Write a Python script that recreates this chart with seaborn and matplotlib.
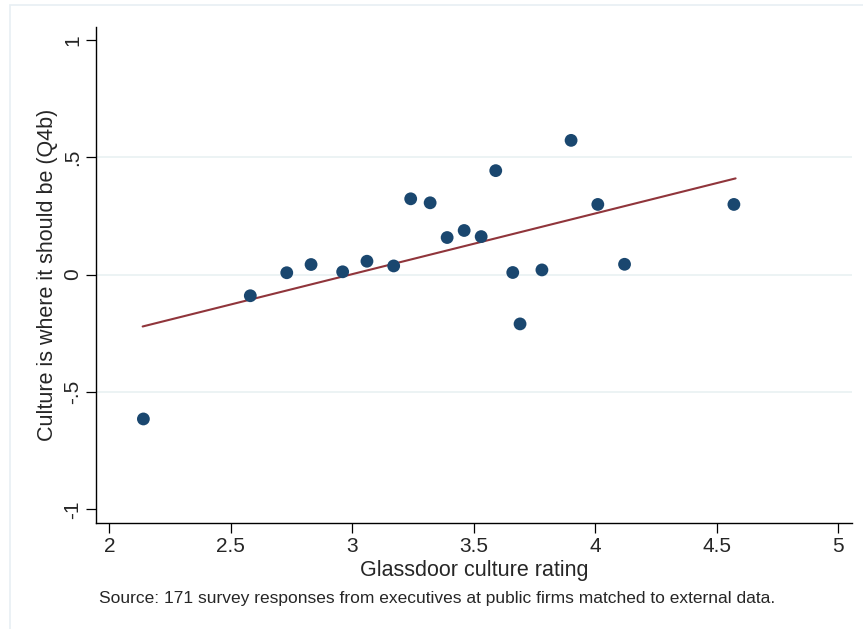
import matplotlib
matplotlib.use("Agg")
import matplotlib.pyplot as plt
import seaborn as sns
import pandas as pd
from matplotlib.patches import Rectangle

# Binned scatter data
glassdoor = [2.14, 2.58, 2.73, 2.83, 2.96, 3.06, 3.17, 3.24, 3.32, 3.39,
             3.46, 3.53, 3.59, 3.66, 3.69, 3.78, 3.90, 4.01, 4.12, 4.57]
culture_q4b = [-0.615, -0.09, 0.008, 0.043, 0.012, 0.057, 0.037, 0.323, 0.306, 0.158,
               0.188, 0.162, 0.443, 0.009, -0.21, 0.02, 0.572, 0.299, 0.044, 0.299]

# Fitted line endpoints
fit_x = [2.137, 4.577]
fit_y = [-0.221, 0.410]

x_ticks = [2, 2.5, 3, 3.5, 4, 4.5, 5]
x_tick_labels = ["2", "2.5", "3", "3.5", "4", "4.5", "5"]
y_ticks = [-1, -0.5, 0, 0.5, 1]
y_tick_labels = ["-1", "-.5", "0", ".5", "1"]
grid_y = [-0.5, 0, 0.5]

df = pd.DataFrame({"x": glassdoor, "y": culture_q4b})
fit = pd.DataFrame({"x": fit_x, "y": fit_y})

sns.set_theme(style="white")
plt.rcParams["font.family"] = ["Liberation Sans", "DejaVu Sans"]

fig = plt.figure(figsize=(8.63, 6.29), dpi=100)
fig.patch.set_facecolor("white")
fig.patches.append(Rectangle((10 / 863, -0.1), 1.2, (1 - 5 / 629) + 0.1,
                             transform=fig.transFigure, fill=False,
                             edgecolor="#e8eff3", linewidth=1.2, zorder=0))

ax = fig.add_axes([96 / 863, 1 - 522.7 / 629, (852 - 96) / 863, (522.7 - 27) / 629])
ax.set_facecolor("white")

for gy in grid_y:
    ax.axhline(gy, color="#eaf2f3", linewidth=1.3, zorder=0)

sns.lineplot(data=fit, x="x", y="y", ax=ax, color="#90353b", linewidth=1.5, zorder=2)
sns.scatterplot(data=df, x="x", y="y", ax=ax, color="#1a476f", s=85,
                edgecolor="none", linewidth=0, zorder=3)

ax.set_xlim(1.945, 5.056)
ax.set_ylim(-1.057, 1.055)

ax.set_xticks(x_ticks)
ax.set_xticklabels(x_tick_labels, fontsize=15)
ax.set_yticks(y_ticks)
ax.set_yticklabels(y_tick_labels, fontsize=15, rotation=90, va="center")

ax.tick_params(axis="both", which="major", direction="out", length=7, width=0.9,
               color="black", bottom=True, left=True, pad=3)

for side in ["top", "right"]:
    ax.spines[side].set_visible(False)
for side in ["left", "bottom"]:
    ax.spines[side].set_color("black")
    ax.spines[side].set_linewidth(1.0)

ax.set_xlabel("Glassdoor culture rating", fontsize=15.5, labelpad=3)
ax.set_ylabel("Culture is where it should be (Q4b)", fontsize=15.5, labelpad=4)

fig.text(99 / 863, 1 - 598 / 629,
         "Source: 171 survey responses from executives at public firms matched to external data.",
         fontsize=12.5, ha="left", va="center")

fig.savefig("out.png", dpi=100, facecolor="white")
